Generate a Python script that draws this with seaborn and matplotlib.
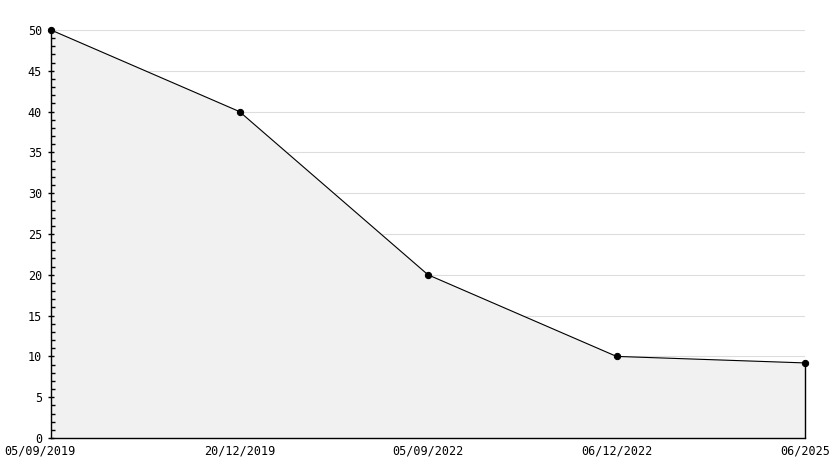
import seaborn as sns
import pandas as pd
import matplotlib.transforms as mtransforms
from matplotlib import pyplot as plt
from matplotlib.ticker import MultipleLocator

dates = ['05/09/2019', '20/12/2019', '05/09/2022', '06/12/2022', '06/2025']
values = [50, 40, 20, 10, 9.2]

df = pd.DataFrame({'pos': range(len(dates)), 'value': values})

sns.set_style('white')
plt.rcParams['font.family'] = ['DejaVu Sans Mono']

fig = plt.figure(figsize=(8.34, 4.68), dpi=100)
ax = fig.add_axes([51 / 834, 1 - 438 / 468, (805 - 51) / 834, (438 - 30) / 468])

# horizontal grid under the fill
for g in range(5, 55, 5):
    ax.axhline(g, color='#dddddd', lw=0.8, zorder=0)

ax.fill_between(df['pos'], df['value'], 0, color='#f1f1f1', zorder=1)
ax.plot([df['pos'].iloc[-1]] * 2, [0, values[-1]], color='black', lw=1, zorder=2, clip_on=False)
sns.lineplot(x='pos', y='value', data=df, color='black', lw=0.8, marker='o',
             markersize=4.5, markeredgecolor='black', ax=ax, zorder=3, clip_on=False)

ax.set_xlim(0, len(dates) - 1)
ax.set_ylim(0, 50)
ax.yaxis.set_major_locator(MultipleLocator(5))
ax.yaxis.set_minor_locator(MultipleLocator(1))
ax.grid(False)
ax.set_axisbelow(False)

ax.set_xticks(range(len(dates)))
ax.set_xticklabels(dates, fontsize=8.5)
ax.tick_params(axis='x', bottom=False, length=0, pad=5, labelcolor='black')
ax.tick_params(axis='y', which='major', left=True, direction='inout', length=5, width=1,
               labelsize=8.5, pad=4, color='black', labelcolor='black')
ax.tick_params(axis='y', which='minor', left=True, direction='in', length=3, width=1, color='black')

first = ax.get_xticklabels()[0]
first.set_transform(first.get_transform() + mtransforms.ScaledTranslation(-11 / 100, 0, fig.dpi_scale_trans))

for s in ['top', 'right']:
    ax.spines[s].set_visible(False)
for s in ['left', 'bottom']:
    ax.spines[s].set_color('black')
    ax.spines[s].set_linewidth(1)

ax.set_xlabel('')
ax.set_ylabel('')
plt.savefig('out.png', dpi=100)
